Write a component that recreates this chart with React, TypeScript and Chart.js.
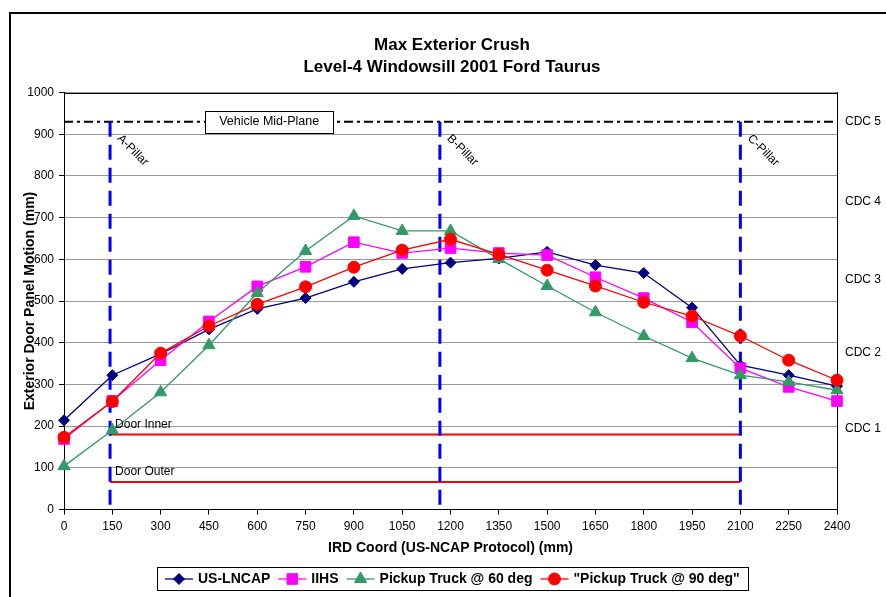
import React, { useEffect, useRef } from 'react';
import { Chart, registerables } from 'chart.js';

Chart.register(...registerables);

const FONT = "'Liberation Sans', Arial, Helvetica, sans-serif";

const titleLines = ['Max Exterior Crush', 'Level-4 Windowsill 2001 Ford Taurus'];
const xAxisTitle = 'IRD Coord (US-NCAP Protocol) (mm)';
const yAxisTitle = 'Exterior Door Panel Motion (mm)';

const xCoords = [0, 150, 300, 450, 600, 750, 900, 1050, 1200, 1350, 1500, 1650, 1800, 1950, 2100, 2250, 2400];
const seriesNames = ['US-LNCAP', 'IIHS', 'Pickup Truck @ 60 deg', '"Pickup Truck @ 90 deg"'];
const usLncap = [214, 322, 373, 432, 481, 507, 546, 577, 592, 602, 618, 586, 567, 484, 346, 322, 296];
const iihs = [169, 260, 358, 451, 535, 582, 641, 615, 627, 615, 610, 557, 507, 449, 339, 294, 260];
const pickup60 = [104, 190, 281, 394, 519, 620, 704, 668, 668, 601, 536, 473, 416, 363, 322, 306, 286];
const pickup90 = [173, 259, 375, 440, 492, 534, 581, 622, 648, 612, 574, 536, 497, 464, 416, 358, 310];

const pillarNames = ['A-Pillar', 'B-Pillar', 'C-Pillar'];
const pillarX = [143, 1167, 2100];
const pillarTop = 930;
const doorNames = ['Door Inner', 'Door Outer'];
const doorY = [180, 66];
const doorStartX = 143;
const doorEndX = 2100;
const midPlaneLabel = 'Vehicle Mid-Plane';
const midPlaneY = 930;
const midPlaneLabelX = 637;
const cdcLabels = ['CDC 1', 'CDC 2', 'CDC 3', 'CDC 4', 'CDC 5'];
const cdcValues = [193, 377, 550, 738, 930];

const seriesStyles = [
  { color: '#000080', pointStyle: 'rectRot', radius: 5.5 },
  { color: '#FF00FF', pointStyle: 'rect', radius: 7.5 },
  { color: '#339966', pointStyle: 'triangle', radius: 7 },
  { color: '#FF0000', pointStyle: 'circle', radius: 6 },
];

function drawMarker(ctx: CanvasRenderingContext2D, style: string, x: number, y: number, r: number, color: string) {
  ctx.save();
  ctx.fillStyle = color;
  ctx.strokeStyle = color;
  ctx.lineWidth = 1;
  ctx.beginPath();
  if (style === 'rectRot') {
    ctx.moveTo(x - r, y);
    ctx.lineTo(x, y - r);
    ctx.lineTo(x + r, y);
    ctx.lineTo(x, y + r);
    ctx.closePath();
  } else if (style === 'rect') {
    const s = Math.SQRT1_2 * r;
    ctx.rect(x - s, y - s, 2 * s, 2 * s);
  } else if (style === 'triangle') {
    let a = 0;
    ctx.moveTo(x + Math.sin(a) * r, y - Math.cos(a) * r);
    a += (2 * Math.PI) / 3;
    ctx.lineTo(x + Math.sin(a) * r, y - Math.cos(a) * r);
    a += (2 * Math.PI) / 3;
    ctx.lineTo(x + Math.sin(a) * r, y - Math.cos(a) * r);
    ctx.closePath();
  } else {
    ctx.arc(x, y, r, 0, Math.PI * 2);
  }
  ctx.fill();
  ctx.stroke();
  ctx.restore();
}

const decorPlugin = {
  id: 'decor',
  beforeDraw(chart: any) {
    const ctx: CanvasRenderingContext2D = chart.ctx;
    ctx.save();
    ctx.fillStyle = '#FFFFFF';
    ctx.fillRect(0, 0, chart.width, chart.height);
    ctx.strokeStyle = '#000000';
    ctx.lineWidth = 2;
    ctx.strokeRect(10, 13, chart.width + 20, chart.height + 20);
    ctx.restore();
  },
  afterDatasetsDraw(chart: any) {
    const ctx: CanvasRenderingContext2D = chart.ctx;
    const { left, right, top } = chart.chartArea;
    const xs = chart.scales.x;
    const ys = chart.scales.y;
    ctx.save();
    ctx.strokeStyle = '#000000';
    ctx.lineWidth = 1;
    ctx.beginPath();
    ctx.moveTo(left, Math.round(top) + 0.5);
    ctx.lineTo(right, Math.round(top) + 0.5);
    ctx.stroke();

    ctx.fillStyle = '#000000';
    ctx.font = `12px ${FONT}`;
    const yTop = ys.getPixelForValue(pillarTop);
    pillarNames.forEach((name, i) => {
      const px = xs.getPixelForValue(pillarX[i]);
      ctx.save();
      ctx.translate(px + 9, yTop + 15);
      ctx.rotate(Math.PI / 4);
      ctx.textAlign = 'left';
      ctx.textBaseline = 'middle';
      ctx.fillText(name, 0, 0);
      ctx.restore();
    });
    doorNames.forEach((name, i) => {
      const px = xs.getPixelForValue(doorStartX);
      const py = ys.getPixelForValue(doorY[i]);
      ctx.textAlign = 'left';
      ctx.textBaseline = 'middle';
      ctx.fillText(name, px + 5, py - 10);
    });
    ctx.font = `12.5px ${FONT}`;
    const mx = xs.getPixelForValue(midPlaneLabelX);
    const my = ys.getPixelForValue(midPlaneY);
    const tw = ctx.measureText(midPlaneLabel).width;
    const bw = tw + 28;
    const bh = 22;
    ctx.fillStyle = '#FFFFFF';
    ctx.fillRect(mx - bw / 2, my - bh / 2, bw, bh);
    ctx.strokeStyle = '#000000';
    ctx.lineWidth = 1;
    ctx.strokeRect(Math.round(mx - bw / 2) + 0.5, Math.round(my - bh / 2) + 0.5, Math.round(bw), bh);
    ctx.fillStyle = '#000000';
    ctx.textAlign = 'center';
    ctx.textBaseline = 'middle';
    ctx.fillText(midPlaneLabel, mx, my);
    ctx.restore();
  },
  afterDraw(chart: any) {
    const ctx: CanvasRenderingContext2D = chart.ctx;
    const { left, right } = chart.chartArea;
    ctx.save();
    ctx.font = `bold 14px ${FONT}`;
    const lineLen = 28;
    const gapAfterLine = 5;
    const gapAfterText = 8;
    const padX = 8;
    const widths = seriesNames.map((n) => ctx.measureText(n).width);
    let total = padX * 2;
    widths.forEach((w, i) => {
      total += lineLen + gapAfterLine + w + (i < widths.length - 1 ? gapAfterText : 0);
    });
    const cx = (left + right) / 2 + 1.5;
    const bx = Math.round(cx - total / 2);
    const by = 567;
    const bh = 23;
    ctx.fillStyle = '#FFFFFF';
    ctx.fillRect(bx, by, total, bh);
    ctx.strokeStyle = '#000000';
    ctx.lineWidth = 1;
    ctx.strokeRect(bx + 0.5, by + 0.5, Math.round(total), bh);
    let x = bx + padX;
    const cy = by + bh / 2 + 0.5;
    seriesNames.forEach((name, i) => {
      const st = seriesStyles[i];
      ctx.strokeStyle = st.color;
      ctx.lineWidth = 1.3;
      ctx.beginPath();
      ctx.moveTo(x, cy);
      ctx.lineTo(x + lineLen, cy);
      ctx.stroke();
      drawMarker(ctx, st.pointStyle, x + lineLen / 2, cy, st.radius, st.color);
      x += lineLen + gapAfterLine;
      ctx.fillStyle = '#000000';
      ctx.textAlign = 'left';
      ctx.textBaseline = 'middle';
      ctx.fillText(name, x, cy);
      x += widths[i] + gapAfterText;
    });
    ctx.restore();
  },
};

export default function App() {
  const canvasRef = useRef<HTMLCanvasElement | null>(null);

  useEffect(() => {
    const canvas = canvasRef.current;
    if (!canvas) return;

    const seriesData = [usLncap, iihs, pickup60, pickup90];
    const dataSets: any[] = seriesData.map((vals, i) => {
      const st = seriesStyles[i];
      return {
        label: seriesNames[i],
        data: xCoords.map((x, j) => ({ x, y: vals[j] })),
        borderColor: st.color,
        backgroundColor: st.color,
        borderWidth: 1.3,
        pointStyle: st.pointStyle,
        pointRadius: st.radius,
        pointHoverRadius: st.radius,
        pointBorderWidth: 1,
        pointBackgroundColor: st.color,
        pointBorderColor: st.color,
        tension: 0,
        clip: false,
        yAxisID: 'y',
        order: 3 - i,
      };
    });

    pillarX.forEach((px, i) => {
      dataSets.push({
        label: '_' + pillarNames[i],
        data: [{ x: px, y: pillarTop }, { x: px, y: 0 }],
        borderColor: '#0000FF',
        borderWidth: 3,
        borderDash: [15, 8],
        pointRadius: 0,
        pointHoverRadius: 0,
        yAxisID: 'y',
        order: 10,
      });
    });
    doorY.forEach((dy, i) => {
      dataSets.push({
        label: '_' + doorNames[i],
        data: [{ x: doorStartX, y: dy }, { x: doorEndX, y: dy }],
        borderColor: '#FF0000',
        borderWidth: 2,
        pointRadius: 0,
        pointHoverRadius: 0,
        yAxisID: 'y',
        order: 11,
      });
    });
    dataSets.push({
      label: '_' + midPlaneLabel,
      data: [{ x: xCoords[0], y: midPlaneY }, { x: xCoords[xCoords.length - 1], y: midPlaneY }],
      borderColor: '#000000',
      borderWidth: 2,
      borderDash: [9, 4, 3, 4],
      pointRadius: 0,
      pointHoverRadius: 0,
      yAxisID: 'y',
      order: 12,
    });

    const chart = new Chart(canvas, {
      type: 'line',
      data: { datasets: dataSets },
      plugins: [decorPlugin],
      options: {
        responsive: false,
        animation: false,
        events: [],
        layout: { padding: { left: 18, right: 0, top: 0, bottom: 37.5 } },
        plugins: {
          legend: { display: false },
          tooltip: { enabled: false },
          title: {
            display: true,
            text: titleLines,
            color: '#000000',
            font: { size: 17, weight: 'bold', family: FONT, lineHeight: 22 / 17 },
            padding: { top: 34, bottom: 14.5 },
          },
        },
        scales: {
          x: {
            type: 'linear',
            position: 'bottom',
            min: 0,
            max: 2400,
            ticks: {
              stepSize: 150,
              autoSkip: false,
              maxRotation: 0,
              color: '#000000',
              font: { size: 12, family: FONT },
              padding: 5,
              callback: (v: any) => String(v),
            },
            grid: { drawOnChartArea: false, drawTicks: true, tickLength: 5, tickColor: '#000000' },
            border: { color: '#000000', width: 1 },
            title: {
              display: true,
              text: xAxisTitle,
              color: '#000000',
              font: { size: 14, weight: 'bold', family: FONT },
              padding: { top: 0, bottom: 3 },
            },
            afterFit: (scale: any) => {
              scale.height = 50;
            },
          },
          y: {
            type: 'linear',
            position: 'left',
            min: 0,
            max: 1000,
            ticks: {
              stepSize: 100,
              color: '#000000',
              font: { size: 12, family: FONT },
              padding: 5,
              callback: (v: any) => String(v),
            },
            grid: { color: '#999999', lineWidth: 1, tickColor: '#000000', tickLength: 5 },
            border: { color: '#000000', width: 1 },
            title: {
              display: true,
              text: yAxisTitle,
              color: '#000000',
              font: { size: 14, weight: 'bold', family: FONT },
              padding: { top: 4, bottom: 0 },
            },
            afterFit: (scale: any) => {
              scale.width = 46;
            },
          },
          y2: {
            type: 'linear',
            position: 'right',
            min: 0,
            max: 1000,
            afterBuildTicks: (scale: any) => {
              scale.ticks = cdcValues.map((v) => ({ value: v }));
            },
            ticks: {
              autoSkip: false,
              color: '#000000',
              font: { size: 12, family: FONT },
              padding: 8,
              callback: (_v: any, i: number) => cdcLabels[i],
            },
            grid: { display: false, drawTicks: false, drawOnChartArea: false },
            border: { display: true, color: '#000000', width: 1 },
            afterFit: (scale: any) => {
              scale.width = 49;
            },
          },
        },
      } as any,
    });

    return () => {
      chart.destroy();
    };
  }, []);

  return (
    <div style={{ position: 'absolute', left: 0, top: 0, width: 886, height: 597, background: '#fff' }}>
      <canvas ref={canvasRef} width={886} height={597} style={{ display: 'block', width: 886, height: 597 }} />
    </div>
  );
}
